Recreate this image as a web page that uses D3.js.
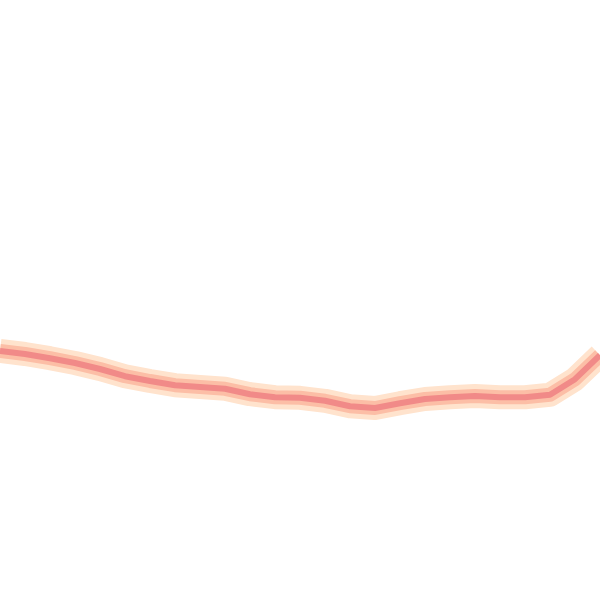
<!DOCTYPE html>
<html>
<head>
<meta charset="utf-8">
<script src="https://cdn.jsdelivr.net/npm/d3@7"></script>
<style>
  html, body { margin:0; padding:0; background:#fff; }
  svg { display:block; }
</style>
</head>
<body>
<script>
// series (step index, value)
var steps  = [0,1,2,3,4,5,6,7,8,9,10,11,12,13,14,15,16,17,18,19,20,21,22,23,24];
var values = [41.5,41.0,40.3,39.5,38.5,37.3,36.5,35.8,35.5,35.2,34.3,33.8,33.7,
              33.2,32.3,32.0,32.8,33.5,33.8,34.0,33.8,33.8,34.2,36.8,40.8];

var width = 600, height = 600;

var svg = d3.select("body").append("svg")
            .attr("width", width)
            .attr("height", height);

var x = d3.scaleLinear().domain([0, steps.length - 1]).range([0, width]);
var y = d3.scaleLinear().domain([0, 100]).range([height, 0]);

var line = d3.line()
             .x(function(d, i){ return x(steps[i]); })
             .y(function(d){ return y(d); });

// glow layers, outermost first
var layers = [
   {w:24, c:"#ffe3cd"},
   {w:14, c:"#fcbea6"},
   {w:6,  c:"#f18a88"}
];

layers.forEach(function(l){
   svg.append("path")
      .datum(values)
      .attr("fill", "none")
      .attr("stroke", l.c)
      .attr("stroke-width", l.w)
      .attr("stroke-linejoin", "round")
      .attr("d", line);
});
</script>
</body>
</html>
